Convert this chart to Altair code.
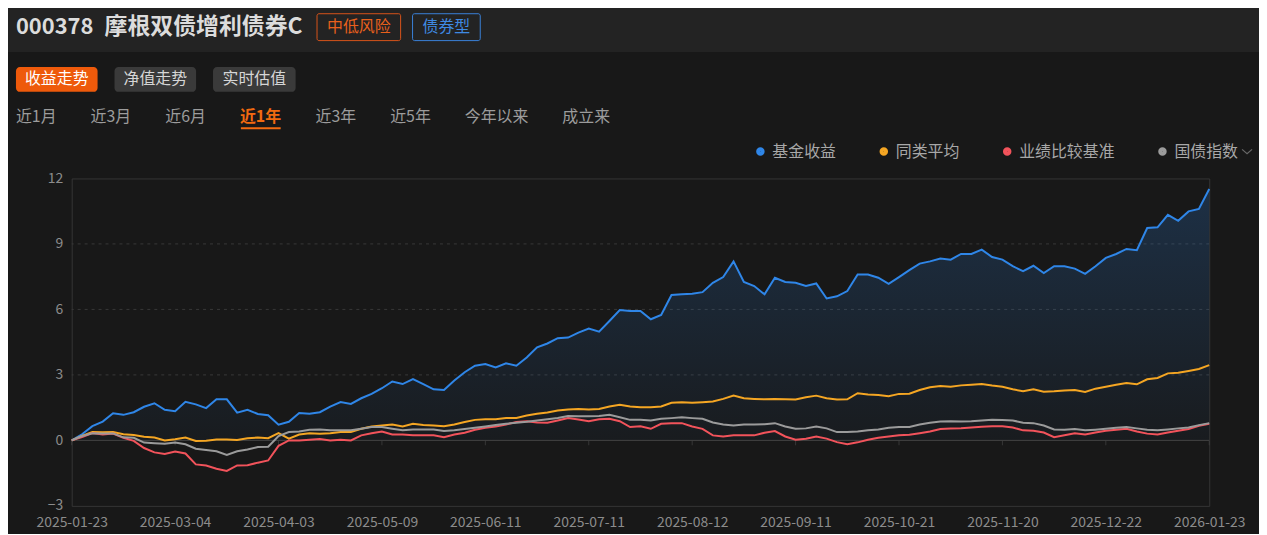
import altair as alt
import pandas as pd

# ---------------- data ----------------
series_names = ["基金收益", "同类平均", "业绩比较基准", "国债指数"]
series_colors = ["#2f86e8", "#f5a623", "#f2535b", "#9b9b9b"]

tick_labels = ["2025-01-23", "2025-03-04", "2025-04-03", "2025-05-09", "2025-06-11",
               "2025-07-11", "2025-08-12", "2025-09-11", "2025-10-21", "2025-11-20",
               "2025-12-22", "2026-01-23"]
y_ticks = [-3, 0, 3, 6, 9, 12]

fund = [0, 0.28, 0.65, 0.86, 1.24, 1.17, 1.29, 1.54, 1.7, 1.4,
        1.34, 1.77, 1.65, 1.48, 1.88, 1.88, 1.27, 1.4, 1.21, 1.15,
        0.72, 0.85, 1.25, 1.22, 1.29, 1.55, 1.76, 1.67, 1.93, 2.13,
        2.39, 2.7, 2.58, 2.81,
        2.58, 2.34, 2.31, 2.74, 3.12, 3.42, 3.5, 3.34, 3.53, 3.42,
        3.8, 4.26, 4.44, 4.68, 4.71, 4.94, 5.12, 4.98, 5.47, 5.97,
        5.93, 5.93, 5.55, 5.75, 6.66, 6.69, 6.72, 6.79, 7.22, 7.48,
        8.2, 7.26, 7.07, 6.69, 7.45, 7.26, 7.22, 7.07,
        7.19, 6.5, 6.6, 6.84, 7.6, 7.6, 7.45, 7.17, 7.48, 7.8,
        8.1, 8.2, 8.33, 8.28, 8.54, 8.54, 8.74, 8.4, 8.28, 7.98,
        7.75, 8.0, 7.67, 7.98, 7.98, 7.87, 7.63, 7.98, 8.36, 8.54,
        8.77, 8.71, 9.73, 9.76, 10.33, 10.06, 10.49, 10.6, 11.52]

peer = [0, 0.2, 0.38, 0.37, 0.38, 0.28, 0.25, 0.17, 0.13, 0.0,
        0.05, 0.13, -0.03, -0.02, 0.04, 0.04, 0.02, 0.1, 0.13, 0.1,
        0.33, 0.08, 0.27, 0.33, 0.3, 0.33, 0.38, 0.38, 0.53, 0.64,
        0.68, 0.73, 0.64, 0.76,
        0.71, 0.68, 0.65, 0.73, 0.84, 0.94, 0.97, 0.97, 1.03, 1.03,
        1.14, 1.22, 1.28, 1.37, 1.41, 1.44, 1.41, 1.44, 1.55, 1.63,
        1.55, 1.52, 1.52, 1.55, 1.72, 1.75, 1.72, 1.75, 1.78, 1.9,
        2.05, 1.93, 1.9, 1.88, 1.9, 1.88, 1.87, 1.98,
        2.05, 1.93, 1.87, 1.88, 2.16, 2.1, 2.08, 2.02, 2.13, 2.14,
        2.31, 2.43, 2.49, 2.46, 2.52, 2.55, 2.58, 2.51, 2.46, 2.34,
        2.25, 2.34, 2.23, 2.25, 2.29, 2.31, 2.22, 2.37, 2.46, 2.55,
        2.63, 2.57, 2.8, 2.86, 3.07, 3.1, 3.18, 3.27, 3.45]

benchmark = [0, 0.15, 0.34, 0.27, 0.31, 0.12, -0.02, -0.35, -0.55, -0.62,
             -0.51, -0.6, -1.1, -1.15, -1.3, -1.4, -1.15, -1.14, -1.02, -0.92,
             -0.25, 0.0, 0.0, 0.03, 0.06, 0.0, 0.03, 0.0, 0.23, 0.33,
             0.41, 0.27, 0.27, 0.23,
             0.24, 0.23, 0.15, 0.27, 0.35, 0.49, 0.58, 0.64, 0.73, 0.84,
             0.88, 0.82, 0.81, 0.91, 1.02, 0.96, 0.88, 0.97, 0.99, 0.88,
             0.61, 0.65, 0.53, 0.76, 0.79, 0.79, 0.64, 0.53, 0.23, 0.18,
             0.23, 0.23, 0.23, 0.35, 0.43, 0.18, 0.03, 0.08,
             0.18, 0.08, -0.08, -0.18, -0.09, 0.03, 0.12, 0.18, 0.23, 0.26,
             0.33, 0.41, 0.52, 0.55, 0.56, 0.59, 0.62, 0.65, 0.65, 0.59,
             0.46, 0.44, 0.36, 0.15, 0.24, 0.33, 0.27, 0.36, 0.44, 0.49,
             0.53, 0.41, 0.31, 0.27, 0.36, 0.44, 0.52, 0.67, 0.76]

treasury = [0, 0.2, 0.33, 0.32, 0.32, 0.14, 0.12, -0.1, -0.13, -0.15,
            -0.1, -0.18, -0.38, -0.44, -0.5, -0.67, -0.5, -0.42, -0.3, -0.29,
            0.2, 0.38, 0.41, 0.49, 0.5, 0.46, 0.46, 0.46, 0.53, 0.61,
            0.61, 0.53, 0.46, 0.5,
            0.5, 0.5, 0.43, 0.46, 0.52, 0.58, 0.64, 0.7, 0.76, 0.81,
            0.85, 0.91, 0.97, 1.03, 1.12, 1.11, 1.11, 1.12, 1.17, 1.06,
            0.94, 0.94, 0.91, 0.99, 1.02, 1.06, 1.02, 0.99, 0.82, 0.73,
            0.68, 0.73, 0.73, 0.74, 0.79, 0.64, 0.53, 0.55,
            0.64, 0.55, 0.38, 0.38, 0.41, 0.46, 0.5, 0.58, 0.61, 0.61,
            0.73, 0.81, 0.87, 0.88, 0.87, 0.88, 0.91, 0.94, 0.93, 0.91,
            0.81, 0.79, 0.68, 0.5, 0.49, 0.52, 0.46, 0.49, 0.53, 0.58,
            0.61, 0.55, 0.49, 0.46, 0.5, 0.55, 0.59, 0.7, 0.79]

header_code = "000378"
header_name = "摩根双债增利债券C"
tags = ["中低风险", "债券型"]
buttons = ["收益走势", "净值走势", "实时估值"]
periods = ["近1月", "近3月", "近6月", "近1年", "近3年", "近5年", "今年以来", "成立来"]

# ---------------- tables ----------------
n = len(fund)
step = (n - 1) // (len(tick_labels) - 1)
rows = []
for name, vals in zip(series_names, [fund, peer, benchmark, treasury]):
    for i, v in enumerate(vals):
        rows.append({"idx": i, "series": name, "value": v})
df = pd.DataFrame(rows)
df_fund = pd.DataFrame({"idx": list(range(n)), "value": fund})
df_ticks = pd.DataFrame({"idx": list(range(0, n, step))})
df_grid = pd.DataFrame({"v": [t for t in y_ticks if t not in (0, min(y_ticks), max(y_ticks))]})

FONT = "Noto Sans CJK SC"
OX, OY = 72, 178
W, H = 1143, 329
ONE = alt.Data(values=[{"k": 0}])


def px(x):
    return x - OX


def py(y):
    return y - OY


def text_layer(s, x, y, size, color, weight="normal", align="left"):
    return alt.Chart(ONE).mark_text(
        text=s, align=align, baseline="middle", fontSize=size, font=FONT,
        fontWeight=weight, color=color
    ).encode(x=alt.value(px(x)), y=alt.value(py(y)))


def rect_layer(x1, y1, x2, y2, fill, stroke=None, radius=0):
    kw = dict(fill=fill, cornerRadius=radius)
    if stroke:
        kw.update(stroke=stroke, strokeWidth=1)
    return alt.Chart(ONE).mark_rect(**kw).encode(
        x=alt.value(px(x1)), x2=alt.value(px(x2)),
        y=alt.value(py(y1)), y2=alt.value(py(y2)))


# ---------------- decorations ----------------
deco = []
deco.append(rect_layer(0, 0, 1267, 51, "#232323"))
deco.append(text_layer(header_code, 16, 26, 22, "#dcdcdc", "bold"))
deco.append(text_layer(header_name, 105, 26, 23, "#dcdcdc", "bold"))
deco.append(rect_layer(318.5, 12.5, 402.5, 39.5, "#232323", "#d9541a", 2))
deco.append(text_layer(tags[0], 360.5, 26, 16, "#e8601c", align="center"))
deco.append(rect_layer(414.5, 12.5, 482.5, 39.5, "#232323", "#3a82da", 2))
deco.append(text_layer(tags[1], 448.5, 26, 16, "#3f8ae2", align="center"))

btn_x = [(16, 98), (115, 197), (214, 297)]
for i, (b, (x1, x2)) in enumerate(zip(buttons, btn_x)):
    fill = "#ee5a0b" if i == 0 else "#3a3a3a"
    col = "#ffffff" if i == 0 else "#d6d6d6"
    deco.append(rect_layer(x1, 66, x2, 91, fill, None, 4))
    deco.append(text_layer(b, (x1 + x2) / 2, 78.5, 16, col, align="center"))

tab_x = [16, 91, 166, 241, 317, 392, 467, 565]
for i, (p, x) in enumerate(zip(periods, tab_x)):
    if i == 3:
        deco.append(text_layer(p, x, 116, 16, "#f26a10", "bold"))
        deco.append(rect_layer(x + 1, 126.5, x + 41, 128.5, "#f26a10"))
    else:
        deco.append(text_layer(p, x, 116, 16, "#9c9c9c"))

chevron = alt.Chart(ONE).mark_point(
    shape="M-1,-0.45L0,0.45L1,-0.45", filled=False, size=100,
    stroke="#8a8a8a", strokeWidth=1.2
).encode(x=alt.value(px(1253)), y=alt.value(py(151)))
deco.append(chevron)

# ---------------- chart ----------------
xscale = alt.Scale(domain=[0, n - 1], nice=False, zero=False)
yscale = alt.Scale(domain=[-3, 12], nice=False, zero=False)
label_js = "[" + ",".join("'" + t + "'" for t in tick_labels) + "][round(datum.value/" + str(step) + ")]"

x_axis = alt.Axis(values=list(range(0, n, step)), labelExpr=label_js, title=None,
                  grid=False, ticks=False, domain=False, labelColor="#8c8c8c",
                  labelFontSize=14, labelFont=FONT, labelPadding=10,
                  labelFlush=False, labelOverlap=False, labelBound=False)
y_axis = alt.Axis(values=y_ticks, title=None, grid=False, ticks=False, domain=False,
                  labelColor="#8c8c8c", labelFontSize=14, labelFont=FONT,
                  labelPadding=9)

X = alt.X("idx:Q", scale=xscale, axis=x_axis)
Y = alt.Y("value:Q", scale=yscale, axis=y_axis)
Y0 = alt.YDatum(0, scale=yscale, axis=y_axis)

grid = alt.Chart(df_grid).mark_rule(color="#383838", strokeWidth=1, strokeDash=[3, 4]).encode(
    y=alt.Y("v:Q", scale=yscale, axis=y_axis))

area = alt.Chart(df_fund).mark_area(
    color=alt.Gradient(
        gradient="linear",
        stops=[alt.GradientStop(color="rgba(47,134,232,0.22)", offset=0),
               alt.GradientStop(color="rgba(47,134,232,0.03)", offset=1)],
        x1=1, x2=1, y1=0, y2=1)
).encode(x=X, y=Y, y2=alt.datum(0))

zero_rule = alt.Chart(ONE).mark_rule(color="#444444", strokeWidth=1).encode(y=Y0)

ticks = alt.Chart(df_ticks).mark_tick(
    orient="vertical", size=5, thickness=1, color="#444444", yOffset=2.5
).encode(x=X, y=Y0)

lines = alt.Chart(df).mark_line(strokeWidth=2).encode(
    x=X,
    y=Y,
    color=alt.Color("series:N", sort=series_names,
                    scale=alt.Scale(domain=series_names, range=series_colors),
                    legend=alt.Legend(
                        orient="none", legendX=684, legendY=-35,
                        direction="horizontal", title=None,
                        symbolType="circle", symbolSize=16,
                        symbolStrokeWidth=4.5, labelFont=FONT,
                        labelFontSize=16, labelColor="#a8a8a8",
                        labelOffset=4, columnPadding=36, padding=0)),
    detail="series:N",
)

chart = alt.layer(*deco, grid, area, zero_rule, ticks, lines).properties(
    width=W, height=H,
    padding={"left": 64, "top": 170, "right": 50, "bottom": 27},
    autosize=alt.AutoSizeParams(type="none"),
).configure(
    background="#181818",
).configure_view(
    stroke="#353535", strokeWidth=1,
)

chart.save("out.html", embed_options={"renderer": "svg", "actions": False})
